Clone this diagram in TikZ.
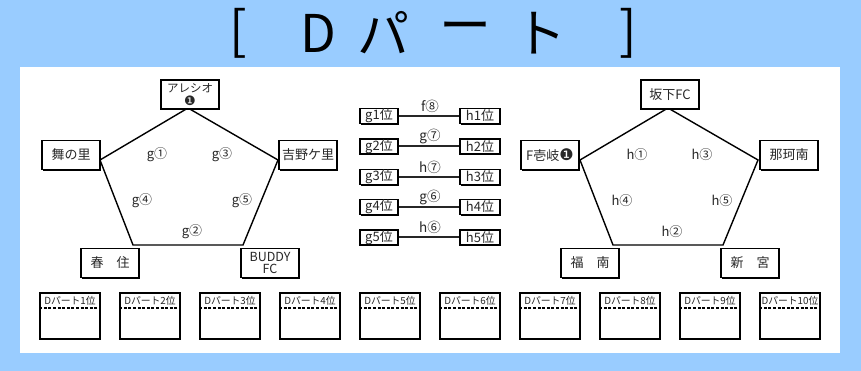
\documentclass[tikz,border=0pt]{standalone}
\usepackage{fontspec}
\setmainfont{Noto Sans CJK JP}
\newfontfamily\djv{DejaVu Sans}
\usetikzlibrary{shadows}
\definecolor{bgblue}{RGB}{153,204,255}
\definecolor{txt}{RGB}{40,40,40}
\tikzset{
  boxshadow/.style={drop shadow={shadow xshift=1.2pt, shadow yshift=-1.2pt, fill=black, opacity=1}},
  team/.style={draw, line width=1.6pt, fill=white, boxshadow, minimum width=58pt, minimum height=29pt, inner sep=1pt, align=center, font=\fontsize{13}{13}\selectfont, text=txt},
  rank/.style={draw, line width=1.4pt, fill=white, boxshadow, minimum width=38pt, minimum height=15pt, inner sep=0pt, font=\fontsize{13}{13}\selectfont, text=txt},
  glabel/.style={font=\fontsize{13}{13}\selectfont, text=txt, inner sep=0pt},
  mlabel/.style={font=\fontsize{13.5}{13}\selectfont, text=txt, inner sep=0pt},
  edge/.style={line width=1.4pt, black},
  link/.style={line width=2pt, black!85},
  result/.style={draw, line width=1.5pt, fill=white, boxshadow, minimum width=60pt, minimum height=46pt, inner sep=0pt},
  rlabel/.style={font=\fontsize{9.8}{9.8}\selectfont, text=txt, inner sep=0pt},
  title/.style={font=\fontsize{52}{52}\selectfont, inner sep=0pt, text=black},
}
\begin{document}
\begin{tikzpicture}[x=1pt,y=-1pt]
\useasboundingbox (0,0) rectangle (861,371);
\fill[bgblue] (0,0) rectangle (861,371);
\fill[white] (20,67) rectangle (840,353);
% title
\node[title] (tb1) at (238,33) {[};
\node[title] (tD) at (318,33) {D};
\node[title] (tPa) at (383,33) {パ};
\node[title] (tBar) at (465,33) {ー};
\node[title] (tTo) at (540,33) {ト};
\node[title] (tb2) at (628,33) {]};
% left pentagon
\coordinate (gA) at (188,108);
\coordinate (gB) at (278,160);
\coordinate (gC) at (243,245);
\coordinate (gD) at (133,245);
\coordinate (gE) at (100,160);
\draw[edge] (gA) -- (gB) -- (gC) -- (gD) -- (gE) -- cycle;
\node[team, font=\fontsize{11.5}{13}\selectfont, inner sep=0pt] (ar) at (190,94.5) {アレシオ\\{\djv\fontsize{13}{13}\selectfont ❶}};
\node[team] (mai) at (71,155) {舞の里};
\node[team] (yoshi) at (308,155) {吉野ケ里};
\node[team] (kasu) at (110,263) {春\hspace{1em}住};
\node[team, font=\fontsize{12.5}{11.5}\selectfont] (buddy) at (270,263) {BUDDY\\FC};
\node[glabel] (g1) at (157,155) {g①};
\node[glabel] (g3) at (222,155) {g③};
\node[glabel] (g4) at (142,201) {g④};
\node[glabel] (g5) at (242,201) {g⑤};
\node[glabel] (g2) at (192,232) {g②};
% right pentagon
\coordinate (hA) at (668,108);
\coordinate (hB) at (758,160);
\coordinate (hC) at (723,245);
\coordinate (hD) at (613,245);
\coordinate (hE) at (580,160);
\draw[edge] (hA) -- (hB) -- (hC) -- (hD) -- (hE) -- cycle;
\node[team] (saka) at (670,94.5) {坂下FC};
\node[team] (iki) at (550,155) {F壱岐{\djv\fontsize{16}{13}\selectfont ❶}};
\node[team] (naka) at (789,155) {那珂南};
\node[team] (fuku) at (590,263) {福\hspace{1em}南};
\node[team] (shin) at (750,263) {新\hspace{1em}宮};
\node[glabel] (h1) at (637,155) {h①};
\node[glabel] (h3) at (702,155) {h③};
\node[glabel] (h4) at (622,201) {h④};
\node[glabel] (h5) at (722,201) {h⑤};
\node[glabel] (h2) at (672,232) {h②};
% middle
\foreach \i/\yy/\lab in {1/116/f⑧, 2/146.5/g⑦, 3/177/h⑦, 4/207/g⑥, 5/237.5/h⑥}{
  \node[rank] (gr\i) at (379,\yy) {g{\i}位};
  \node[rank, minimum width=40pt] (hr\i) at (480,\yy) {h{\i}位};
  \draw[link] (gr\i) -- (hr\i);
  \node[mlabel] (ml\i) at (430,\yy-10) {\lab};
}
% result boxes
\foreach \i in {1,...,10}{
  \node[result] (r\i) at ({70+80*(\i-1)},316) {};
  \node[rlabel] (rl\i) at ({70+80*(\i-1)},300.5) {Dパート{\i}位};
  \draw[line width=1.4pt, dash pattern=on 3pt off 1.6pt] (r\i.west |- 0,308) -- (r\i.east |- 0,308);
}
\end{tikzpicture}
\end{document}
